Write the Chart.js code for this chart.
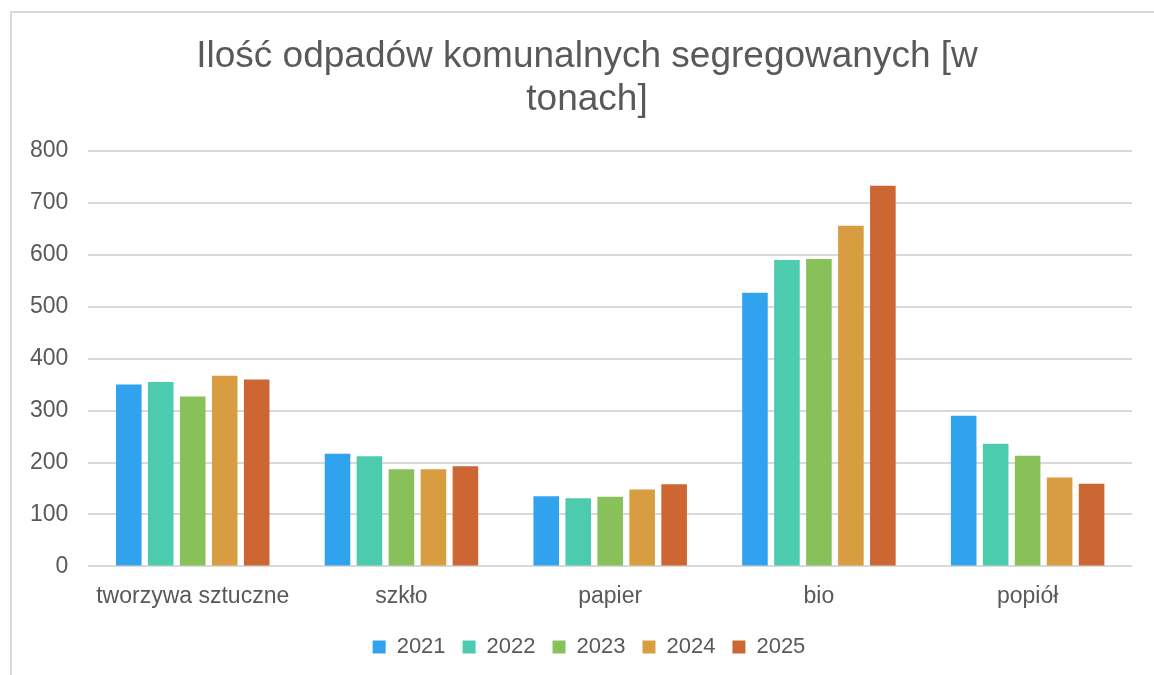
<!DOCTYPE html>
<html lang="pl">
<head>
    <meta charset="UTF-8">
    <title>Ilość odpadów komunalnych segregowanych</title>
    <script src="https://cdnjs.cloudflare.com/ajax/libs/Chart.js/4.4.1/chart.umd.min.js"></script>
    <style>
        html, body { margin: 0; padding: 0; background: #fff; overflow: hidden; }
        #frame {
            position: absolute; left: 10px; top: 11px;
            width: 1200px; height: 700px;
            border: 2px solid #d9d9d9; box-sizing: border-box;
        }
        #wrap { position: absolute; left: 0; top: 0; width: 1154px; height: 675px; }
    </style>
</head>
<body>
<div id="frame"></div>
<div id="wrap">
    <canvas id="myChart" width="1154" height="675"></canvas>
</div>
<script>
    var categories = ['tworzywa sztuczne', 'szkło', 'papier', 'bio', 'popiół'];
    var years = ['2021', '2022', '2023', '2024', '2025'];

    var v2021 = [350, 217, 135, 527, 290];
    var v2022 = [355, 212, 131, 590, 236];
    var v2023 = [327, 187, 134, 592, 213];
    var v2024 = [367, 187, 148, 656, 171];
    var v2025 = [360, 193, 158, 733, 159];

    var yTicks = [0, 100, 200, 300, 400, 500, 600, 700, 800];

    var colors = ['rgb(49, 163, 238)', 'rgb(77, 203, 174)', 'rgb(136, 192, 90)',
        'rgb(216, 157, 64)', 'rgb(204, 102, 51)'];
    var series = [v2021, v2022, v2023, v2024, v2025];

    var textColor = '#595959';
    var fontFamily = '"Liberation Sans", Arial, sans-serif';

    var datasets = years.map(function (y, i) {
        return {
            label: y,
            data: series[i],
            backgroundColor: colors[i],
            borderWidth: 0,
            barPercentage: 0.8,
            categoryPercentage: 0.766
        };
    });

    // title and legend are centred on the whole frame, not on the plot
    var shiftBoxes = {
        id: 'shiftBoxes',
        afterLayout: function (chart) {
            if (chart.titleBlock) {
                chart.titleBlock.left += 16;
                chart.titleBlock.right += 16;
            }
            if (chart.legend) {
                chart.legend.left += 18;
                chart.legend.right += 18;
            }
        }
    };

    var ctx = document.querySelector('#myChart').getContext('2d');
    new Chart(ctx, {
        type: 'bar',
        data: { labels: categories, datasets: datasets },
        plugins: [shiftBoxes],
        options: {
            responsive: false,
            animation: false,
            layout: { padding: { left: 10, right: 22, top: 35, bottom: 7 } },
            plugins: {
                title: {
                    display: true,
                    text: ['Ilość odpadów komunalnych segregowanych [w', 'tonach]'],
                    color: textColor,
                    font: { family: fontFamily, size: 37, weight: 'normal', lineHeight: 1.16 },
                    padding: { top: 0, bottom: 30 }
                },
                legend: {
                    position: 'bottom',
                    labels: {
                        color: textColor,
                        font: { family: fontFamily, size: 22 },
                        boxWidth: 13,
                        boxHeight: 13,
                        padding: 17
                    }
                },
                tooltip: { enabled: false }
            },
            scales: {
                x: {
                    grid: { display: false },
                    border: { display: false },
                    ticks: {
                        color: textColor,
                        font: { family: fontFamily, size: 23, lineHeight: 1.07 },
                        padding: 10
                    }
                },
                y: {
                    min: 0,
                    max: 800,
                    afterBuildTicks: function (axis) {
                        axis.ticks = yTicks.map(function (v) { return { value: v }; });
                    },
                    grid: { color: '#d9d9d9', lineWidth: 2, drawTicks: false },
                    border: { display: false },
                    ticks: {
                        color: textColor,
                        font: { family: fontFamily, size: 23 },
                        padding: 20
                    }
                }
            }
        }
    });
</script>
</body>
</html>
